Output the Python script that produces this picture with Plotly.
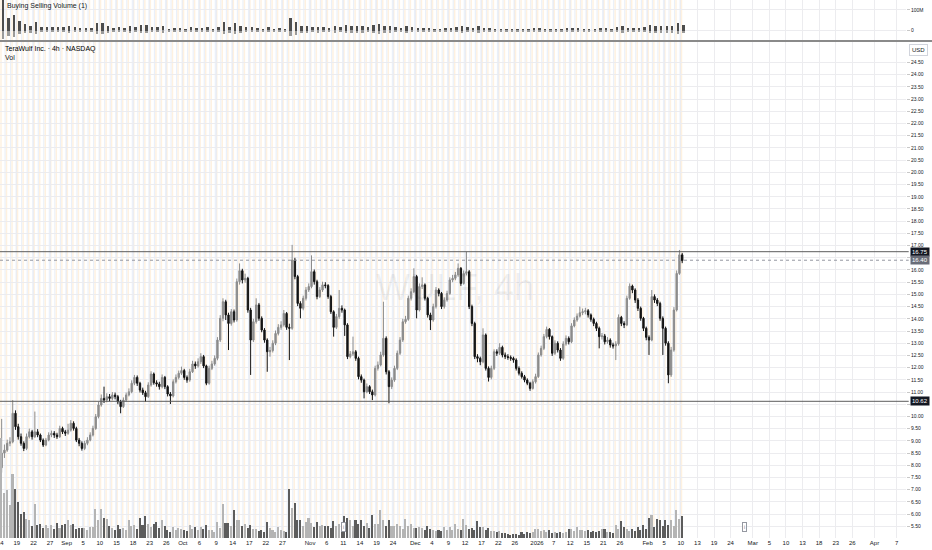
#!/usr/bin/env python3

import plotly.graph_objects as go

# Two candles per trading day, day 0 = Aug 14 2025 (trading-day index, weekends/holidays skipped)
opens = [
    7.90, 8.50, 8.62, 8.90, 8.96, 10.13, 9.58, 9.17, 8.90, 8.69,
    9.17, 9.37, 9.17, 9.37, 9.24, 9.03, 8.83, 9.03, 9.24, 9.31,
    9.24, 9.17, 9.51, 9.37, 9.31, 9.44, 9.72, 9.51, 9.03, 8.90,
    8.69, 8.90, 9.03, 9.24, 9.51, 9.99, 10.47, 10.74, 10.67, 10.81,
    10.74, 10.88, 10.81, 10.60, 10.40, 10.67, 10.88, 11.01, 11.36, 11.60,
    11.36, 11.08, 10.97, 10.81, 11.29, 11.74, 11.38, 11.33, 11.22, 11.60,
    11.22, 10.92, 10.84, 11.42, 11.60, 11.77, 11.88, 11.60, 11.49, 11.83,
    12.15, 12.07, 12.24, 12.45, 12.07, 11.36, 11.97, 12.15, 12.38, 13.13,
    14.02, 14.70, 14.16, 13.81, 14.29, 13.95, 15.52, 15.97, 15.59, 15.66,
    14.36, 13.13, 13.88, 14.57, 14.02, 13.54, 13.13, 12.65, 12.70, 13.00,
    13.40, 13.65, 13.75, 14.22, 13.65, 13.61, 16.41, 15.73, 14.63, 14.43,
    14.84, 15.18, 15.32, 15.93, 15.52, 14.91, 15.18, 15.39, 15.36, 14.91,
    14.29, 13.65, 14.09, 14.43, 14.36, 13.75, 12.45, 12.56, 12.65, 12.38,
    11.63, 11.49, 11.01, 11.22, 11.01, 10.88, 11.97, 12.11, 12.52, 13.20,
    11.83, 11.22, 11.49, 11.97, 12.59, 13.13, 13.88, 13.98, 14.84, 15.11,
    15.73, 14.36, 15.32, 15.39, 14.84, 14.16, 13.95, 14.50, 15.18, 15.04,
    14.50, 14.77, 15.04, 15.59, 15.66, 15.80, 16.07, 15.45, 15.86, 15.93,
    14.50, 13.81, 12.45, 12.38, 12.24, 13.34, 11.97, 11.60, 11.97, 12.65,
    12.59, 12.83, 12.52, 12.45, 12.42, 12.38, 12.31, 11.97, 11.77, 11.63,
    11.49, 11.36, 11.15, 11.42, 11.63, 12.52, 12.79, 13.27, 13.57, 13.27,
    12.59, 13.00, 12.72, 12.38, 12.97, 13.20, 13.06, 13.71, 13.95, 14.11,
    14.25, 14.29, 14.33, 14.16, 13.98, 13.81, 13.61, 13.27, 13.30, 13.06,
    13.13, 12.93, 12.89, 12.97, 14.06, 13.81, 13.75, 14.84, 15.34, 15.18,
    14.77, 14.43, 14.02, 13.61, 13.24, 13.13, 14.91, 14.77, 14.63, 14.02,
    13.61, 13.00, 11.70, 12.72, 14.36, 15.86, 16.62,
]
highs = [
    9.90, 8.85, 9.05, 9.15, 10.67, 10.25, 9.70, 9.30, 8.98, 9.30,
    9.50, 9.45, 10.20, 9.48, 9.30, 9.10, 9.12, 9.35, 9.42, 9.40,
    9.33, 9.62, 9.58, 9.45, 9.70, 9.85, 9.80, 9.58, 9.12, 8.98,
    9.00, 9.15, 9.35, 9.62, 10.10, 10.60, 10.90, 11.22, 10.95, 10.92,
    11.00, 10.98, 10.88, 10.68, 10.78, 10.98, 11.15, 11.48, 11.70, 11.68,
    11.42, 11.18, 11.05, 11.40, 11.85, 11.80, 11.48, 11.42, 11.72, 11.66,
    11.28, 11.00, 11.52, 11.72, 11.88, 12.04, 11.95, 11.68, 11.95, 12.28,
    12.25, 12.38, 12.59, 12.52, 12.12, 12.08, 12.28, 12.50, 13.25, 14.15,
    14.84, 14.78, 14.25, 14.40, 14.38, 15.65, 16.27, 16.05, 15.85, 15.72,
    14.45, 14.00, 14.84, 14.65, 14.10, 13.62, 13.20, 12.85, 13.12, 13.52,
    13.78, 13.90, 14.36, 14.28, 13.80, 17.03, 16.50, 15.80, 14.72, 14.95,
    15.30, 15.45, 16.60, 16.02, 15.60, 15.30, 15.52, 15.50, 15.42, 14.98,
    14.35, 14.20, 15.18, 14.55, 14.42, 13.82, 12.68, 13.27, 12.72, 12.45,
    11.72, 11.55, 11.35, 11.28, 11.10, 12.08, 12.25, 12.65, 14.70, 13.28,
    11.90, 11.60, 12.08, 12.70, 13.25, 14.00, 14.12, 14.95, 15.25, 16.07,
    15.80, 15.45, 15.70, 15.45, 14.90, 14.25, 14.62, 15.30, 15.25, 15.10,
    14.88, 15.15, 15.70, 15.80, 15.92, 16.27, 16.12, 15.98, 16.75, 16.00,
    14.58, 13.88, 12.55, 12.45, 13.61, 13.40, 12.05, 12.08, 12.75, 12.75,
    13.00, 12.90, 12.62, 12.55, 12.50, 12.45, 12.38, 12.05, 11.85, 11.70,
    11.56, 11.42, 11.52, 11.75, 12.62, 12.90, 13.38, 13.68, 13.62, 13.32,
    13.12, 13.08, 12.80, 13.08, 13.32, 13.28, 13.82, 14.06, 14.22, 14.50,
    14.42, 14.45, 14.40, 14.22, 14.05, 13.88, 13.68, 13.42, 13.38, 13.25,
    13.20, 13.02, 13.08, 14.18, 14.12, 13.90, 14.95, 15.45, 15.40, 15.25,
    14.85, 14.50, 14.08, 13.68, 13.32, 15.18, 15.00, 14.85, 14.70, 14.10,
    13.68, 13.08, 12.85, 14.48, 15.98, 16.82, 16.70,
]
lows = [
    7.70, 8.30, 8.55, 8.78, 8.90, 9.45, 9.05, 8.80, 8.58, 8.62,
    9.10, 9.05, 9.12, 9.15, 8.95, 8.75, 8.78, 8.98, 9.15, 9.12,
    9.08, 9.12, 9.28, 9.20, 9.25, 9.38, 9.42, 8.95, 8.78, 8.60,
    8.62, 8.82, 8.98, 9.18, 9.45, 9.92, 10.40, 10.55, 10.58, 10.62,
    10.66, 10.70, 10.50, 10.13, 10.35, 10.60, 10.82, 10.95, 11.28, 11.25,
    10.98, 10.88, 10.60, 10.76, 11.22, 11.30, 11.22, 11.10, 11.15, 11.12,
    10.82, 10.51, 10.78, 11.35, 11.52, 11.70, 11.50, 11.38, 11.42, 11.78,
    11.95, 12.00, 12.15, 11.98, 11.28, 11.30, 11.90, 12.08, 12.30, 13.05,
    13.90, 13.95, 12.72, 13.72, 13.85, 13.88, 15.40, 15.45, 15.48, 14.25,
    11.70, 13.05, 13.80, 13.92, 13.45, 13.02, 11.83, 12.45, 12.62, 12.92,
    13.32, 13.55, 13.68, 13.55, 12.31, 13.55, 15.62, 14.52, 14.02, 14.35,
    14.75, 15.10, 15.25, 15.40, 14.80, 14.85, 15.10, 15.25, 14.82, 14.20,
    13.27, 13.58, 14.00, 14.25, 13.30, 12.35, 12.38, 12.48, 12.28, 11.52,
    11.38, 10.74, 10.95, 10.92, 10.67, 10.82, 11.88, 12.05, 12.45, 11.72,
    10.54, 11.12, 11.42, 11.90, 12.52, 13.05, 13.80, 13.92, 14.75, 15.05,
    14.02, 14.30, 15.22, 14.75, 14.05, 13.54, 13.88, 14.42, 14.92, 14.40,
    14.42, 14.70, 14.98, 15.50, 15.58, 15.72, 15.35, 15.40, 15.78, 14.40,
    13.70, 12.35, 12.22, 12.10, 12.18, 11.88, 11.43, 11.52, 11.90, 12.48,
    12.52, 12.42, 12.35, 12.32, 12.28, 12.20, 11.88, 11.68, 11.55, 11.40,
    11.28, 11.05, 11.10, 11.35, 11.58, 12.45, 12.72, 13.20, 13.15, 12.48,
    12.52, 12.62, 12.28, 12.32, 12.90, 12.95, 13.00, 13.65, 13.88, 14.05,
    14.15, 14.18, 14.05, 13.88, 13.70, 13.50, 12.79, 13.15, 12.95, 12.98,
    12.82, 12.78, 12.31, 12.90, 13.70, 13.62, 13.70, 14.78, 15.05, 14.65,
    14.32, 13.92, 13.50, 13.12, 12.52, 13.08, 14.65, 14.52, 13.92, 12.52,
    12.90, 11.36, 11.62, 12.65, 14.30, 15.80, 16.28,
]
closes = [
    8.50, 8.62, 8.90, 8.96, 10.13, 9.58, 9.17, 8.90, 8.69, 9.17,
    9.37, 9.17, 9.37, 9.24, 9.03, 8.83, 9.03, 9.24, 9.31, 9.24,
    9.17, 9.51, 9.37, 9.31, 9.44, 9.72, 9.51, 9.03, 8.90, 8.69,
    8.90, 9.03, 9.24, 9.51, 9.99, 10.47, 10.74, 10.67, 10.81, 10.74,
    10.88, 10.81, 10.60, 10.40, 10.67, 10.88, 11.01, 11.36, 11.60, 11.36,
    11.08, 10.97, 10.81, 11.29, 11.74, 11.38, 11.33, 11.22, 11.60, 11.22,
    10.92, 10.84, 11.42, 11.60, 11.77, 11.88, 11.60, 11.49, 11.83, 12.15,
    12.07, 12.24, 12.45, 12.07, 11.36, 11.97, 12.15, 12.38, 13.13, 14.02,
    14.70, 14.16, 13.81, 14.29, 13.95, 15.52, 15.97, 15.59, 15.66, 14.36,
    13.13, 13.88, 14.57, 14.02, 13.54, 13.13, 12.65, 12.70, 13.00, 13.40,
    13.65, 13.75, 14.22, 13.65, 13.61, 16.41, 15.73, 14.63, 14.43, 14.84,
    15.18, 15.32, 15.93, 15.52, 14.91, 15.18, 15.39, 15.36, 14.91, 14.29,
    13.65, 14.09, 14.43, 14.36, 13.75, 12.45, 12.56, 12.65, 12.38, 11.63,
    11.49, 11.01, 11.22, 11.01, 10.88, 11.97, 12.11, 12.52, 13.20, 11.83,
    11.22, 11.49, 11.97, 12.59, 13.13, 13.88, 13.98, 14.84, 15.11, 15.73,
    14.36, 15.32, 15.39, 14.84, 14.16, 13.95, 14.50, 15.18, 15.04, 14.50,
    14.77, 15.04, 15.59, 15.66, 15.80, 16.07, 15.45, 15.86, 15.93, 14.50,
    13.81, 12.45, 12.38, 12.24, 13.34, 11.97, 11.60, 11.97, 12.65, 12.59,
    12.83, 12.52, 12.45, 12.42, 12.38, 12.31, 11.97, 11.77, 11.63, 11.49,
    11.36, 11.15, 11.42, 11.63, 12.52, 12.79, 13.27, 13.57, 13.27, 12.59,
    13.00, 12.72, 12.38, 12.97, 13.20, 13.06, 13.71, 13.95, 14.11, 14.25,
    14.29, 14.33, 14.16, 13.98, 13.81, 13.61, 13.27, 13.30, 13.06, 13.13,
    12.93, 12.89, 12.97, 14.06, 13.81, 13.75, 14.84, 15.34, 15.18, 14.77,
    14.43, 14.02, 13.61, 13.24, 13.13, 14.91, 14.77, 14.63, 14.02, 13.61,
    13.00, 11.70, 12.72, 14.36, 15.86, 16.62, 16.38,
]
# volume per candle, millions of shares
volumes = [
    131, 59, 63, 43, 84, 64, 47, 31, 34, 25, 24, 16, 45, 17, 18, 13, 17, 13, 17, 12,
    20, 13, 17, 18, 24, 17, 18, 12, 13, 13, 13, 10, 14, 14, 38, 24, 38, 26, 25, 16,
    13, 10, 17, 12, 13, 10, 24, 16, 17, 12, 26, 17, 29, 18, 14, 18, 21, 13, 24, 16,
    10, 8, 14, 10, 13, 12, 10, 9, 17, 12, 14, 10, 14, 12, 17, 10, 10, 8, 21, 13,
    45, 20, 20, 16, 37, 24, 24, 16, 18, 13, 17, 12, 12, 9, 10, 8, 21, 13, 10, 8,
    14, 10, 9, 8, 64, 39, 46, 24, 24, 16, 21, 26, 20, 14, 21, 16, 17, 16, 16, 13,
    22, 16, 18, 13, 29, 26, 24, 16, 24, 18, 24, 16, 20, 13, 30, 18, 18, 37, 24, 16,
    24, 16, 16, 18, 16, 12, 25, 16, 18, 13, 13, 14, 13, 10, 16, 12, 10, 9, 10, 9,
    14, 10, 14, 10, 18, 12, 10, 25, 17, 12, 13, 10, 22, 14, 14, 10, 13, 9, 9, 8,
    9, 7, 7, 5, 4, 5, 5, 4, 8, 5, 8, 7, 8, 12, 12, 9, 10, 8, 10, 7,
    8, 7, 8, 7, 8, 12, 12, 9, 14, 10, 10, 9, 10, 8, 9, 8, 9, 12, 12, 8,
    8, 7, 17, 12, 22, 14, 12, 9, 12, 9, 14, 10, 17, 12, 26, 30, 14, 25, 24, 16,
    24, 17, 24, 16, 37, 25, 29,
]

# Buying Selling Volume (1) pane, one value per trading day, millions
buy_volume = [
    170, 60, 75, 45, 30, 22, 40, 18, 16, 16, 20, 18, 24, 18, 14, 13, 15, 35, 36, 24,
    13, 16, 13, 24, 16, 25, 28, 16, 20, 22, 10, 14, 13, 10, 16, 14, 14, 16, 10, 20,
    42, 20, 36, 22, 17, 16, 12, 10, 20, 10, 14, 9, 62, 44, 22, 24, 19, 20, 17, 15,
    21, 17, 28, 22, 23, 22, 19, 28, 34, 22, 22, 17, 15, 24, 17, 14, 12, 15, 10, 10,
    13, 13, 17, 24, 16, 12, 21, 13, 12, 9, 8, 6, 5, 5, 7, 8, 11, 11, 9, 9,
    8, 8, 11, 11, 13, 10, 9, 9, 11, 11, 8, 16, 21, 11, 11, 13, 16, 28, 24, 22,
    22, 22, 35, 28,
]
sell_volume = [
    -40, -28, -30, -18, -13, -9, -16, -8, -7, -7, -8, -8, -10, -7, -6, -5, -6, -15, -15, -10,
    -5, -7, -5, -10, -7, -11, -12, -7, -8, -9, -4, -6, -5, -4, -7, -6, -6, -7, -4, -8,
    -18, -9, -15, -10, -7, -7, -5, -4, -8, -4, -6, -4, -26, -19, -10, -10, -8, -9, -7, -6,
    -9, -7, -12, -9, -10, -9, -8, -12, -14, -9, -9, -7, -6, -10, -7, -6, -5, -6, -4, -4,
    -5, -5, -7, -10, -7, -5, -9, -5, -5, -4, -3, -3, -2, -2, -3, -3, -5, -5, -4, -4,
    -3, -3, -5, -5, -5, -4, -4, -4, -5, -5, -3, -7, -9, -5, -5, -5, -7, -12, -10, -9,
    -9, -9, -15, -12,
]

# time axis: trading-day index -> label
tick_days = [
    0, 3, 6, 9, 12, 15, 18, 21, 24, 27, 30, 33, 36, 39, 42, 45, 48, 51,
    56, 59, 62, 65, 68, 71, 75, 78, 81, 84, 87, 90, 93, 97, 100, 103, 106, 109, 112,
    117, 120, 123, 126, 129, 132, 136, 139, 142, 145, 148, 151, 154, 158, 162, 165,
]
tick_labels = [
    "14", "19", "22", "27", "Sep", "5", "10", "15", "18", "23", "26", "Oct", "6", "9", "14", "17", "22", "27",
    "Nov", "6", "11", "14", "19", "24", "Dec", "4", "9", "12", "17", "22", "26", "2026", "7", "12", "15", "21", "26",
    "Feb", "5", "10", "13", "19", "24", "Mar", "5", "10", "13", "18", "23", "26", "Apr", "7", "10",
]
price_ticks = [
    5.5, 6.0, 6.5, 7.0, 7.5, 8.0, 8.5, 9.0, 9.5, 10.0, 10.5, 11.0, 11.5, 12.0, 12.5, 13.0, 13.5,
    14.0, 14.5, 15.0, 15.5, 16.0, 16.5, 17.0, 17.5, 18.0, 18.5, 19.0, 19.5, 20.0, 20.5, 21.0,
    21.5, 22.0, 22.5, 23.0, 23.5, 24.0, 24.5,
]
# labels hidden behind the price boxes
hidden_ticks = [10.5, 16.5]
resistance = 16.75
last_price = 16.40
support = 10.62

FONT = "Liberation Sans, Arial, sans-serif"
TEXT = "#131722"
GRID = "#ececef"
UP = "#8c8c8c"
DOWN = "#141414"


def main():
    bar_x = [k / 2 + 0.25 for k in range(len(closes))]
    day_x = [d + 0.5 for d in range(len(buy_volume))]
    vol_colors = ["#b4b4b4" if c >= o else "#5c5c5c" for o, c in zip(opens, closes)]
    price_text = ["" if v in hidden_ticks else f"{v:.2f}" for v in price_ticks]

    fig = go.Figure()

    fig.add_trace(go.Bar(
        x=day_x, y=buy_volume, width=0.35, marker_color="#4d4d4d",
        marker_line_width=0, xaxis="x", yaxis="y",
    ))
    fig.add_trace(go.Bar(
        x=day_x, y=sell_volume, width=0.35, marker_color="#9a9a9a",
        marker_line_width=0, xaxis="x", yaxis="y",
    ))
    fig.add_trace(go.Bar(
        x=bar_x, y=volumes, width=0.28, marker_color=vol_colors,
        marker_line_width=0, xaxis="x", yaxis="y3",
    ))
    fig.add_trace(go.Candlestick(
        x=bar_x, open=opens, high=highs, low=lows, close=closes,
        xaxis="x", yaxis="y2",
        increasing=dict(line=dict(color=UP, width=1), fillcolor=UP),
        decreasing=dict(line=dict(color=DOWN, width=1), fillcolor=DOWN),
        whiskerwidth=0,
    ))

    # extended-hours session shading: pre-market (orange) and post-market (blue)
    n_days = len(closes) // 2 + 1
    shapes = []
    for d in range(n_days):
        shapes.append(dict(type="rect", xref="x", yref="paper", x0=d, x1=d + 0.26, y0=0, y1=1,
                           fillcolor="#fef1e0", line_width=0, layer="below"))
        if d < n_days - 1:
            shapes.append(dict(type="rect", xref="x", yref="paper", x0=d + 0.76, x1=d + 0.98, y0=0, y1=1,
                               fillcolor="#eaf0f9", line_width=0, layer="below"))

    shapes.append(dict(type="line", xref="paper", yref="y2", x0=0, x1=1.003,
                       y0=resistance, y1=resistance, line=dict(color="#5d5d5d", width=1)))
    shapes.append(dict(type="line", xref="paper", yref="y2", x0=0, x1=1.003,
                       y0=last_price, y1=last_price, line=dict(color="#9598a1", width=1, dash="dot")))
    shapes.append(dict(type="line", xref="paper", yref="y2", x0=0, x1=1.003,
                       y0=support, y1=support, line=dict(color="#5d5d5d", width=1)))
    # pane separator
    shapes.append(dict(type="line", xref="paper", yref="paper", x0=0, x1=1.03,
                       y0=0.9238, y1=0.9238, line=dict(color="#8a8a8a", width=2)))

    small = dict(family=FONT, size=7, color=TEXT)
    annotations = [
        dict(text="Buying Selling Volume (1)", xref="paper", yref="paper", x=0.005, y=0.989,
             xanchor="left", yanchor="middle", showarrow=False, font=small),
        dict(text="TeraWulf Inc. · 4h · NASDAQ", xref="paper", yref="paper", x=0.003, y=0.909,
             xanchor="left", yanchor="middle", showarrow=False, font=dict(family=FONT, size=7, color="#000")),
        dict(text="Vol", xref="paper", yref="paper", x=0.003, y=0.894,
             xanchor="left", yanchor="middle", showarrow=False, font=small),
        dict(text="WULF, 4h", xref="paper", yref="paper", x=0.502, y=0.465,
             xanchor="center", yanchor="middle", showarrow=False,
             font=dict(family=FONT, size=36, color="rgba(19,23,34,0.06)")),
        dict(text="USD", xref="paper", yref="paper", x=1.0135, y=0.907,
             xanchor="center", yanchor="middle", showarrow=False, font=dict(family=FONT, size=6, color=TEXT),
             bgcolor="white", bordercolor="#d1d4dc", borderwidth=1, borderpad=2),
    ]
    for value, bg in ((resistance, "#131722"), (last_price, "#6a6d78"), (support, "#131722")):
        annotations.append(dict(
            text=f"{value:.2f}", xref="paper", yref="y2", x=1.0, y=value, xshift=4,
            xanchor="left", yanchor="middle", showarrow=False,
            font=dict(family=FONT, size=6, color="white"), bgcolor=bg, borderpad=1,
        ))
    for day in (62, 134.6):
        annotations.append(dict(
            text="i", xref="x", yref="paper", x=day, y=0.011, showarrow=False,
            font=dict(family=FONT, size=5, color="#787b86"),
            bgcolor="white", bordercolor="#9598a1", borderwidth=1, borderpad=1,
        ))

    fig.update_layout(
        width=932,
        height=550,
        margin=dict(l=0, r=26, t=0, b=12),
        paper_bgcolor="white",
        plot_bgcolor="white",
        showlegend=False,
        barmode="overlay",
        bargap=0,
        font=dict(family=FONT, size=7, color=TEXT),
        shapes=shapes,
        annotations=annotations,
        xaxis=dict(
            anchor="y2", range=[-0.05, 163.7], tickmode="array",
            tickvals=tick_days, ticktext=tick_labels, showgrid=True, gridcolor=GRID,
            zeroline=False, rangeslider=dict(visible=False), ticks="",
            tickfont=dict(family=FONT, size=6, color=TEXT), showline=False,
            ticklabeloverflow="allow", automargin=False,
        ),
        yaxis=dict(
            domain=[0.9257, 1], side="right", range=[-45, 148], tickmode="array",
            tickvals=[0, 100], ticktext=["0", "100M"], showgrid=True, gridcolor=GRID,
            zeroline=False, ticks="outside", ticklen=3, tickcolor="#c8c8c8",
            tickfont=dict(family=FONT, size=5, color=TEXT), automargin=False,
        ),
        yaxis2=dict(
            domain=[0, 0.9219], side="right", range=[5.02, 25.34], tickmode="array",
            tickvals=price_ticks, ticktext=price_text, showgrid=True, gridcolor=GRID,
            zeroline=False, ticks="outside", ticklen=3, tickcolor="#c8c8c8",
            tickfont=dict(family=FONT, size=5, color=TEXT), automargin=False,
        ),
        yaxis3=dict(
            overlaying="y2", range=[0, 650], visible=False, showgrid=False,
        ),
    )

    fig.write_html(
        "out.html",
        config={"displayModeBar": False},
        post_script="document.body.style.margin='0';document.body.style.overflow='hidden';",
    )


if __name__ == '__main__':
    main()
